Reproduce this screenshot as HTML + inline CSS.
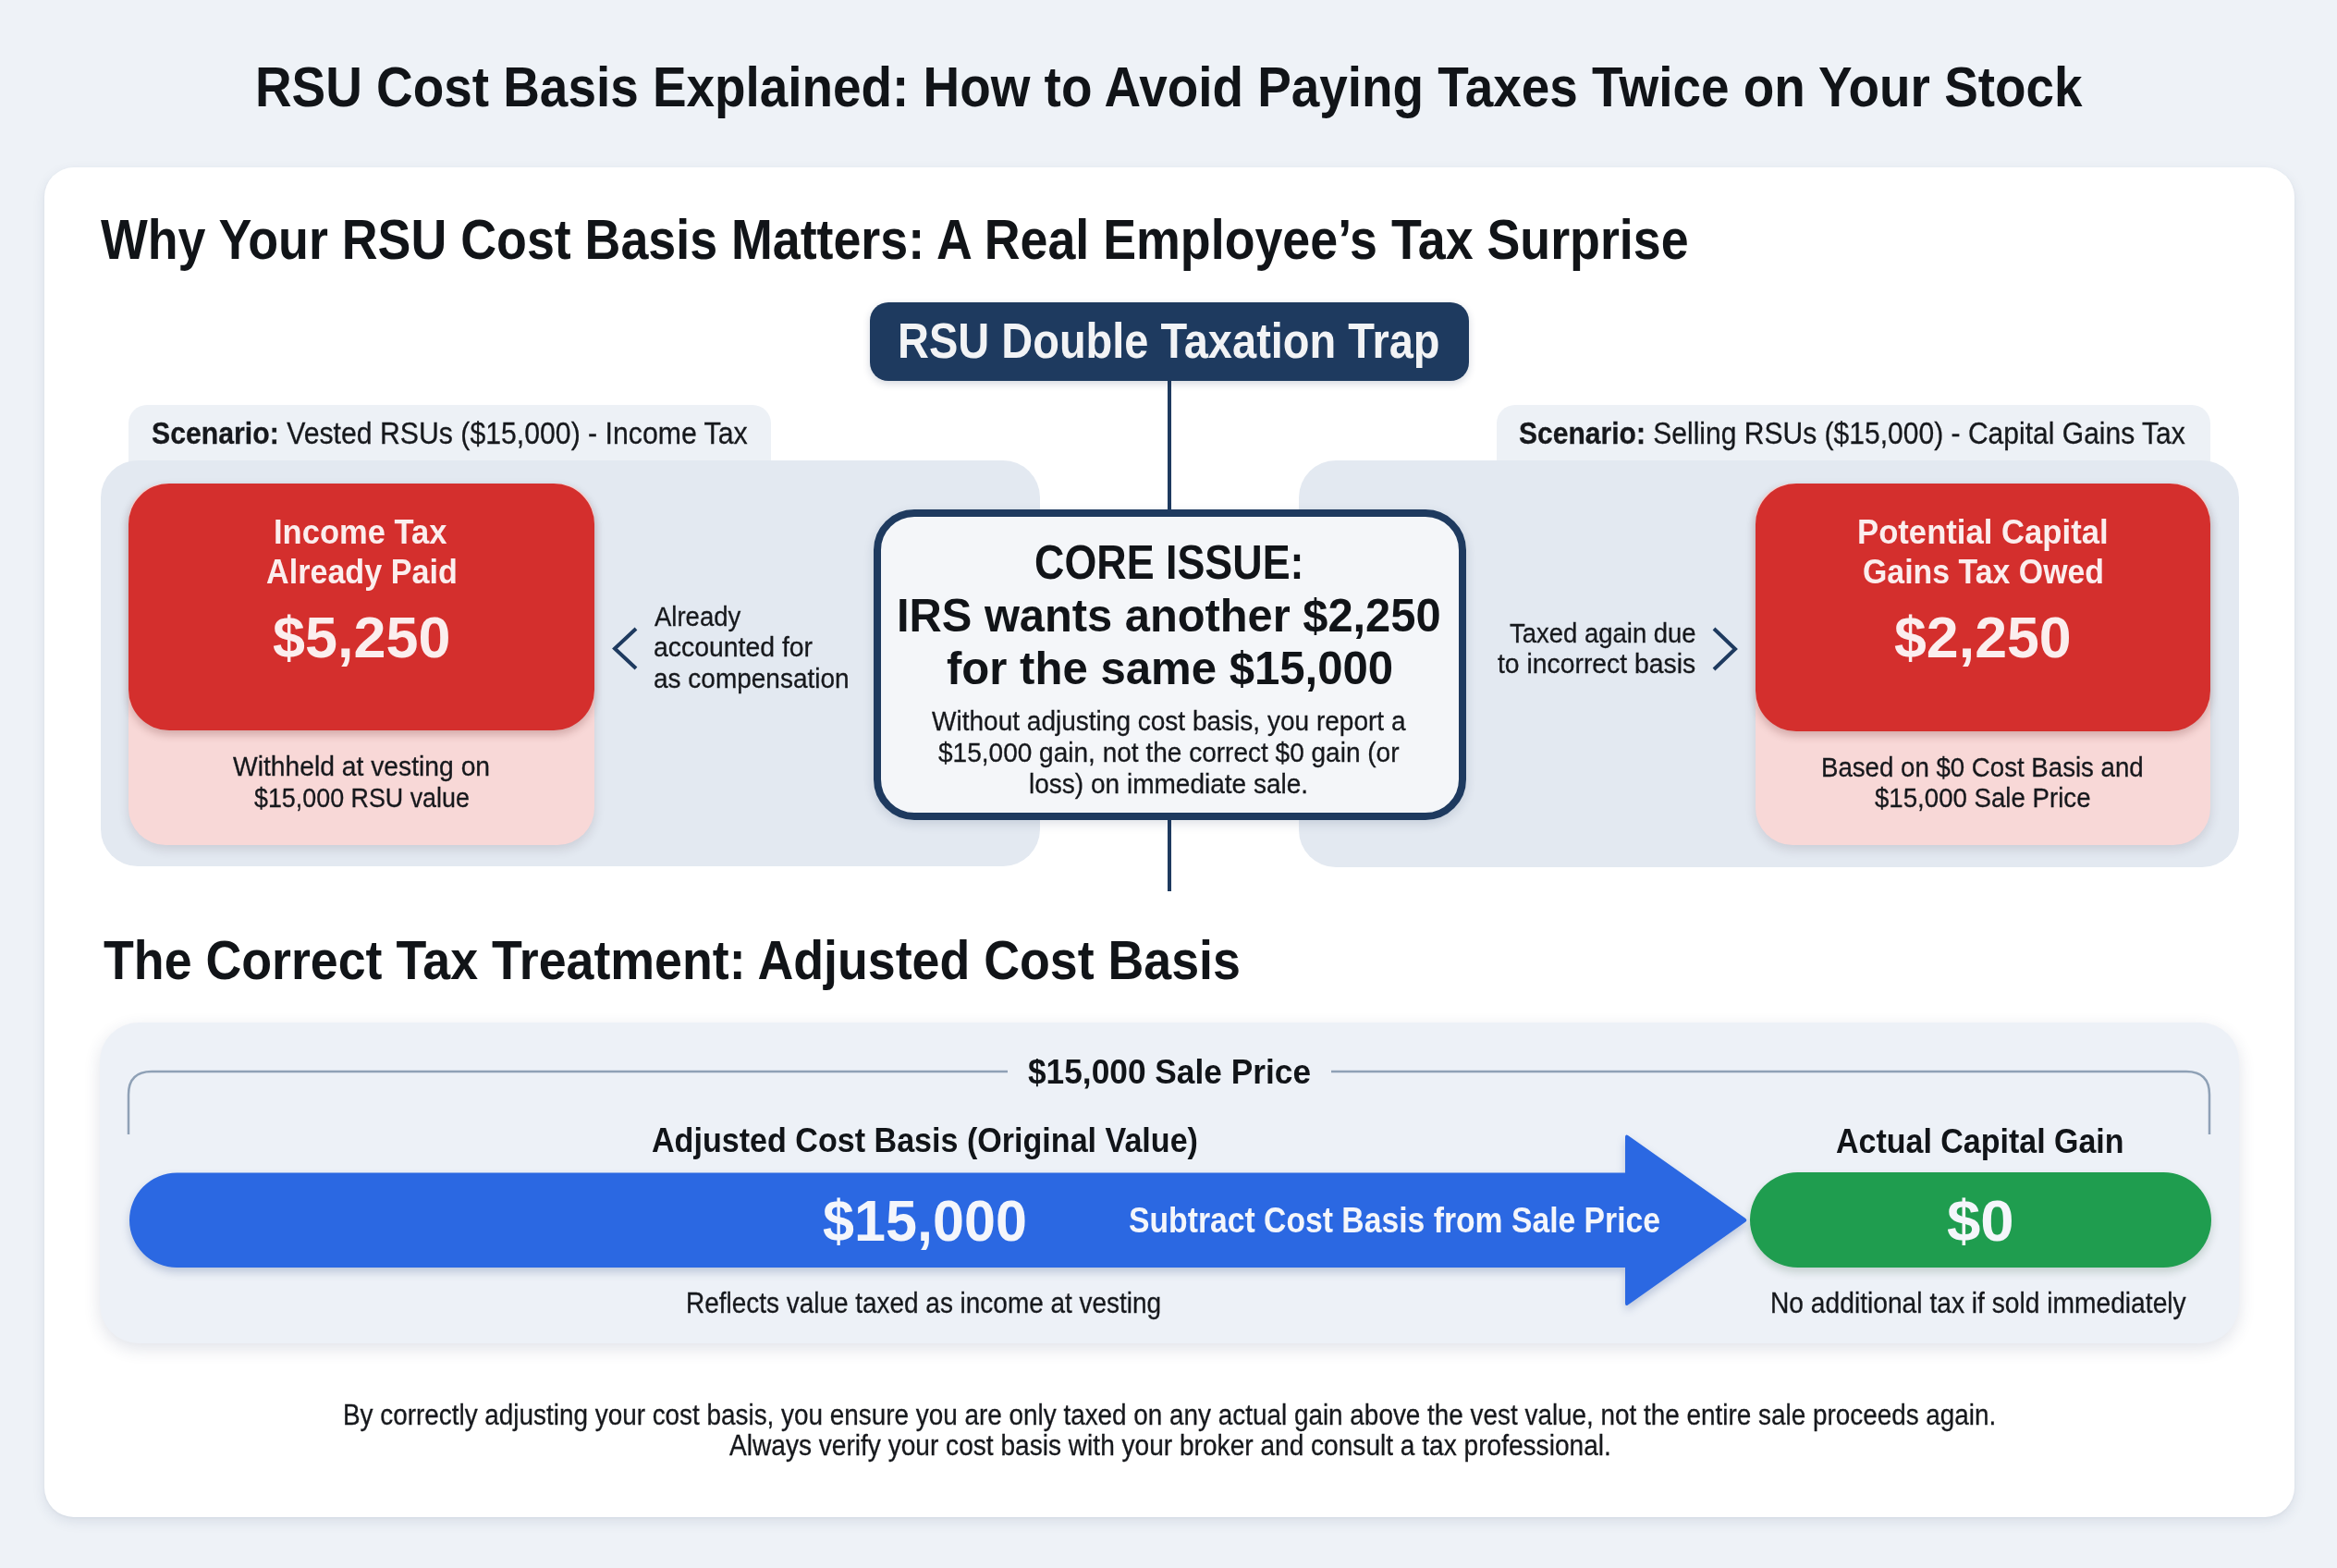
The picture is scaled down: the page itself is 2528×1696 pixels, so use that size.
<!DOCTYPE html>
<html lang="en">
<head>
<meta charset="utf-8">
<title>RSU Cost Basis Explained</title>
<style>
html,body{margin:0;padding:0;}
body{width:2528px;height:1696px;overflow:hidden;position:relative;background:#eef2f7;font-family:"Liberation Sans",sans-serif;}
.a{position:absolute;box-sizing:border-box;}
.t{position:absolute;white-space:nowrap;transform-origin:0 0;font-family:"Liberation Sans",sans-serif;}
.t b{font-weight:700;}
.t.r{-webkit-text-stroke:0.3px currentColor;}
#card{left:48px;top:181px;width:2434px;height:1460px;border-radius:32px;background:#ffffff;box-shadow:0 5px 14px rgba(40,60,100,0.10),0 1px 3px rgba(40,60,100,0.05);}
#navy{left:941px;top:327px;width:648px;height:85px;border-radius:20px;background:#1e3a5f;box-shadow:0 3px 8px rgba(20,40,80,0.18);}
#vline{left:1263px;top:410px;width:4px;height:554px;background:#1e3a5f;}
.tab{border-radius:20px 20px 0 0;background:#edf1f6;}
#tabL{left:139px;top:438px;width:695px;height:70px;}
#tabR{left:1619px;top:438px;width:772px;height:70px;}
.panel{border-radius:40px;background:#e3e9f1;}
#panL{left:109px;top:498px;width:1016px;height:439px;}
#panR{left:1405px;top:498px;width:1017px;height:440px;}
.pink{border-radius:40px;background:#f8d8d7;box-shadow:0 5px 12px rgba(60,40,60,0.14);}
.red{border-radius:44px;background:#d42f2d;box-shadow:0 5px 10px rgba(80,10,10,0.22);}
#pinkL{left:139px;top:523px;width:504px;height:391px;}
#redL{left:139px;top:523px;width:504px;height:267px;}
#pinkR{left:1899px;top:523px;width:492px;height:391px;}
#redR{left:1899px;top:523px;width:492px;height:268px;}
#core{left:945px;top:551px;width:641px;height:336px;border:8px solid #1e3a5f;border-radius:44px;background:#f4f6f9;box-shadow:0 4px 12px rgba(20,40,80,0.14);}
#bpanel{left:108px;top:1106px;width:2314px;height:347px;border-radius:42px;background:#edf1f7;box-shadow:0 6px 18px rgba(40,60,100,0.14);}
#green{left:1893px;top:1268px;width:499px;height:103px;border-radius:52px;background:#1f9d4f;box-shadow:0 5px 10px rgba(10,60,30,0.18);}
svg{position:absolute;left:0;top:0;}
</style>
</head>
<body>
<div class="a" id="card"></div>
<div class="a" id="vline"></div>
<div class="a" id="navy"></div>
<div class="a tab" id="tabL"></div>
<div class="a tab" id="tabR"></div>
<div class="a panel" id="panL"></div>
<div class="a panel" id="panR"></div>
<div class="a pink" id="pinkL"></div>
<div class="a red" id="redL"></div>
<div class="a pink" id="pinkR"></div>
<div class="a red" id="redR"></div>
<div class="a" id="core"></div>
<div class="a" id="bpanel"></div>
<div class="a" id="green"></div>
<svg width="2528" height="1696" viewBox="0 0 2528 1696">
 <polyline points="688,680 665,701.5 688,723" fill="none" stroke="#1e3a5f" stroke-width="4"/>
 <polyline points="1854,680 1877,702 1854,724" fill="none" stroke="#1e3a5f" stroke-width="4"/>
 <path d="M139,1227 V1184 Q139,1159 164,1159 H1090 M1440,1159 H2365 Q2390,1159 2390,1184 V1227" fill="none" stroke="#8fa1b6" stroke-width="2.5"/>
 <path style="filter:drop-shadow(0 5px 5px rgba(20,50,120,0.22))" d="M191.25,1268.5 H1758 V1230 Q1758,1226 1761.3,1228.3 L1887.7,1317.45 Q1891,1319.75 1887.7,1322.05 L1761.3,1411.2 Q1758,1413.5 1758,1409.5 V1371 H191.25 A51.25,51.25 0 0 1 191.25,1268.5 Z" fill="#2b68e2"/>
</svg>
<div class="t" id="t1" style="left:276.44px;top:63.22px;font-size:61.63px;line-height:61.63px;letter-spacing:0.000px;transform:scaleX(0.8903);font-weight:700;color:#111418">RSU Cost Basis Explained: How to Avoid Paying Taxes Twice on Your Stock</div>
<div class="t" id="t2" style="left:109.00px;top:228.61px;font-size:61.05px;line-height:61.05px;letter-spacing:0.000px;transform:scaleX(0.8805);font-weight:700;color:#111418">Why Your RSU Cost Basis Matters: A Real Employee’s Tax Surprise</div>
<div class="t" id="nav" style="left:971.38px;top:342.47px;font-size:53.78px;line-height:53.78px;letter-spacing:0.000px;transform:scaleX(0.8739);font-weight:700;color:#f2f3f5">RSU Double Taxation Trap</div>
<div class="t r" id="scL" style="left:164.10px;top:451.69px;font-size:33.43px;line-height:33.43px;letter-spacing:0.000px;transform:scaleX(0.9044);font-weight:400;color:#16181c"><b>Scenario:</b> Vested RSUs ($15,000) - Income Tax</div>
<div class="t r" id="scR" style="left:1643.10px;top:451.69px;font-size:33.43px;line-height:33.43px;letter-spacing:0.000px;transform:scaleX(0.8989);font-weight:400;color:#16181c"><b>Scenario:</b> Selling RSUs ($15,000) - Capital Gains Tax</div>
<div class="t" id="it1" style="left:296.14px;top:557.20px;font-size:37.21px;line-height:37.21px;letter-spacing:0.000px;transform:scaleX(0.9284);font-weight:700;color:#fbeeee">Income Tax</div>
<div class="t" id="it2" style="left:288.08px;top:599.80px;font-size:37.21px;line-height:37.21px;letter-spacing:0.000px;transform:scaleX(0.9173);font-weight:700;color:#fbeeee">Already Paid</div>
<div class="t" id="amtL" style="left:295.00px;top:657.97px;font-size:63.23px;line-height:63.23px;letter-spacing:0.000px;transform:scaleX(0.9956);font-weight:700;color:#fbeeee">$5,250</div>
<div class="t r" id="wh1" style="left:252.00px;top:814.27px;font-size:29.80px;line-height:29.80px;letter-spacing:0.000px;transform:scaleX(0.9485);font-weight:400;color:#16181c">Withheld at vesting on</div>
<div class="t r" id="wh2" style="left:275.04px;top:847.77px;font-size:29.80px;line-height:29.80px;letter-spacing:0.000px;transform:scaleX(0.9012);font-weight:400;color:#16181c">$15,000 RSU value</div>
<div class="t r" id="ac3" style="left:707.04px;top:719.69px;font-size:29.07px;line-height:29.07px;letter-spacing:0.000px;transform:scaleX(0.9631);font-weight:400;color:#16181c">as compensation</div>
<div class="t r" id="ac1" style="left:708.00px;top:652.59px;font-size:29.07px;line-height:29.07px;letter-spacing:0.000px;transform:scaleX(0.9465);font-weight:400;color:#16181c">Already</div>
<div class="t r" id="ac2" style="left:707.02px;top:686.19px;font-size:29.07px;line-height:29.07px;letter-spacing:0.000px;transform:scaleX(0.9771);font-weight:400;color:#16181c">accounted for</div>
<div class="t" id="co1" style="left:1119.36px;top:582.20px;font-size:52.33px;line-height:52.33px;letter-spacing:0.000px;transform:scaleX(0.8569);font-weight:700;color:#111418">CORE ISSUE:</div>
<div class="t" id="co2" style="left:970.12px;top:640.63px;font-size:50.87px;line-height:50.87px;letter-spacing:0.000px;transform:scaleX(0.9595);font-weight:700;color:#111418">IRS wants another $2,250</div>
<div class="t" id="co3" style="left:1024.03px;top:698.43px;font-size:50.87px;line-height:50.87px;letter-spacing:0.000px;transform:scaleX(0.9656);font-weight:700;color:#111418">for the same $15,000</div>
<div class="t r" id="cs1" style="left:1008.00px;top:765.37px;font-size:29.80px;line-height:29.80px;letter-spacing:0.000px;transform:scaleX(0.9405);font-weight:400;color:#16181c">Without adjusting cost basis, you report a</div>
<div class="t r" id="cs2" style="left:1015.00px;top:799.07px;font-size:29.80px;line-height:29.80px;letter-spacing:0.000px;transform:scaleX(0.9405);font-weight:400;color:#16181c">$15,000 gain, not the correct $0 gain (or</div>
<div class="t r" id="cs3" style="left:1113.00px;top:832.67px;font-size:29.80px;line-height:29.80px;letter-spacing:0.000px;transform:scaleX(0.9405);font-weight:400;color:#16181c">loss) on immediate sale.</div>
<div class="t" id="pc1" style="left:2009.14px;top:557.20px;font-size:37.21px;line-height:37.21px;letter-spacing:0.000px;transform:scaleX(0.9320);font-weight:700;color:#fbeeee">Potential Capital</div>
<div class="t" id="pc2" style="left:2014.68px;top:600.20px;font-size:37.21px;line-height:37.21px;letter-spacing:0.000px;transform:scaleX(0.9106);font-weight:700;color:#fbeeee">Gains Tax Owed</div>
<div class="t" id="amtR" style="left:2049.11px;top:658.47px;font-size:63.23px;line-height:63.23px;letter-spacing:0.000px;transform:scaleX(0.9914);font-weight:700;color:#fbeeee">$2,250</div>
<div class="t r" id="bo1" style="left:1970.15px;top:815.37px;font-size:29.80px;line-height:29.80px;letter-spacing:0.000px;transform:scaleX(0.9274);font-weight:400;color:#16181c">Based on $0 Cost Basis and</div>
<div class="t r" id="bo2" style="left:2028.00px;top:848.47px;font-size:29.80px;line-height:29.80px;letter-spacing:0.000px;transform:scaleX(0.9274);font-weight:400;color:#16181c">$15,000 Sale Price</div>
<div class="t r" id="ta1" style="left:1633.03px;top:670.59px;font-size:29.07px;line-height:29.07px;letter-spacing:0.000px;transform:scaleX(0.9453);font-weight:400;color:#16181c">Taxed again due</div>
<div class="t r" id="ta2" style="left:1620.01px;top:703.69px;font-size:29.07px;line-height:29.07px;letter-spacing:0.000px;transform:scaleX(0.9748);font-weight:400;color:#16181c">to incorrect basis</div>
<div class="t" id="t3" style="left:112.03px;top:1010.46px;font-size:58.87px;line-height:58.87px;letter-spacing:0.000px;transform:scaleX(0.9127);font-weight:700;color:#111418">The Correct Tax Treatment: Adjusted Cost Basis</div>
<div class="t" id="sp" style="left:1112.03px;top:1142.23px;font-size:36.34px;line-height:36.34px;letter-spacing:0.000px;transform:scaleX(0.9712);font-weight:700;color:#111418">$15,000 Sale Price</div>
<div class="t" id="acb" style="left:705.09px;top:1215.25px;font-size:37.50px;line-height:37.50px;letter-spacing:0.000px;transform:scaleX(0.9090);font-weight:700;color:#111418">Adjusted Cost Basis (Original Value)</div>
<div class="t" id="acg" style="left:1986.09px;top:1215.55px;font-size:37.50px;line-height:37.50px;letter-spacing:0.000px;transform:scaleX(0.9062);font-weight:700;color:#111418">Actual Capital Gain</div>
<div class="t" id="b15" style="left:890.02px;top:1288.78px;font-size:62.50px;line-height:62.50px;letter-spacing:0.000px;transform:scaleX(0.9776);font-weight:700;color:#f4f6fb">$15,000</div>
<div class="t" id="sub" style="left:1221.24px;top:1300.27px;font-size:39.24px;line-height:39.24px;letter-spacing:0.000px;transform:scaleX(0.8591);font-weight:700;color:#f4f6fb">Subtract Cost Basis from Sale Price</div>
<div class="t" id="g0" style="left:2105.95px;top:1288.88px;font-size:62.50px;line-height:62.50px;letter-spacing:0.000px;transform:scaleX(1.0455);font-weight:700;color:#f4f6fb">$0</div>
<div class="t r" id="rf" style="left:742.28px;top:1394.06px;font-size:31.11px;line-height:31.11px;letter-spacing:0.000px;transform:scaleX(0.8981);font-weight:400;color:#16181c">Reflects value taxed as income at vesting</div>
<div class="t r" id="na" style="left:1915.24px;top:1394.46px;font-size:31.11px;line-height:31.11px;letter-spacing:0.000px;transform:scaleX(0.9061);font-weight:400;color:#16181c">No additional tax if sold immediately</div>
<div class="t r" id="f1" style="left:371.19px;top:1515.61px;font-size:30.81px;line-height:30.81px;letter-spacing:0.000px;transform:scaleX(0.9052);font-weight:400;color:#16181c">By correctly adjusting your cost basis, you ensure you are only taxed on any actual gain above the vest value, not the entire sale proceeds again.</div>
<div class="t r" id="f2" style="left:789.00px;top:1549.21px;font-size:30.81px;line-height:30.81px;letter-spacing:0.000px;transform:scaleX(0.9120);font-weight:400;color:#16181c">Always verify your cost basis with your broker and consult a tax professional.</div>
</body>
</html>
